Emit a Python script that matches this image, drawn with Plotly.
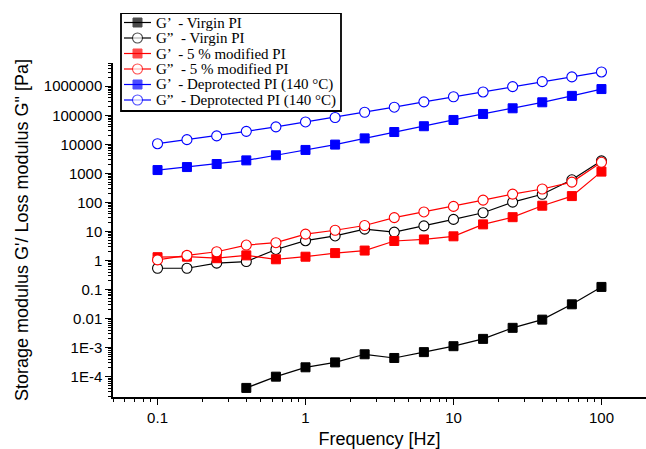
import numpy as np
import plotly.graph_objects as go

freq = [0.1, 0.158, 0.251, 0.398, 0.631, 1.0, 1.585, 2.51, 3.98, 6.31, 10.0, 15.85, 25.1, 39.8, 63.1, 100.0]
freq_virgin_gp = freq[3:]

virgin_gp = [4.1e-5, 1.0e-4, 2.1e-4, 3.1e-4, 5.9e-4, 4.4e-4, 7.0e-4, 1.12e-3, 2.0e-3, 4.8e-3, 9.2e-3, 0.031, 0.123]
virgin_gpp = [0.54, 0.54, 0.81, 0.92, 2.4, 4.8, 7.0, 12, 9.5, 15.5, 26, 44, 102, 190, 600, 2700]
mod_gp = [1.3, 1.35, 1.2, 1.5, 1.1, 1.35, 1.8, 2.2, 4.7, 5.3, 6.8, 17.5, 31, 77, 165, 1150]
mod_gpp = [1.05, 1.5, 2.0, 3.4, 4.1, 8.1, 11, 16, 30, 47, 73, 120, 193, 290, 500, 2400]
dep_gp = [1300, 1650, 2100, 2800, 4200, 6400, 9800, 16000, 26500, 42000, 69000, 111000, 174000, 280000, 465000, 800000]
dep_gpp = [10500, 14500, 19500, 28000, 40000, 59000, 84000, 127000, 190000, 290000, 435000, 635000, 970000, 1.44e6, 2.1e6, 3.1e6]

names = ["G’  - Virgin PI", "G”  - Virgin PI", "G’  - 5 % modified PI",
         "G”  - 5 % modified PI", "G’  - Deprotected PI (140 °C)", "G”  - Deprotected PI (140 °C)"]

y_tick_vals = [1e-4, 1e-3, 1e-2, 1e-1, 1, 10, 100, 1000, 1e4, 1e5, 1e6]
y_tick_text = ["1E-4", "1E-3", "0.01", "0.1", "1", "10", "100", "1000", "10000", "100000", "1000000"]
x_tick_vals = [0.1, 1, 10, 100]
x_tick_text = ["0.1", "1", "10", "100"]

series = [
    (freq_virgin_gp, virgin_gp, "black", "square"),
    (freq, virgin_gpp, "black", "circle-open"),
    (freq, mod_gp, "#ff0000", "square"),
    (freq, mod_gpp, "#ff0000", "circle-open"),
    (freq, dep_gp, "#0000ff", "square"),
    (freq, dep_gpp, "#0000ff", "circle-open"),
]

# Layout geometry (pixels)
W, H = 646, 449
L, R, T, B = 113, 0, 13, 52          # outer plot region incl. legend strip
AX_TOP = 63                          # top of the data axes
area_h = H - T - B
y_dom_top = (H - B - AX_TOP) / area_h

def marker_style(col, sym):
    if sym == "square":
        return dict(symbol="square", size=9, color=col, line=dict(color=col, width=1))
    return dict(symbol="circle", size=10, color="white", line=dict(color=col, width=1.1))

fig = go.Figure()
for (xs, ys, col, sym), nm in zip(series, names):
    fig.add_trace(go.Scatter(
        x=xs, y=ys, name=nm, mode="lines+markers", showlegend=False,
        line=dict(color=col, width=1.2), marker=marker_style(col, sym),
    ))

# Compact legend drawn in a separate pixel-coordinate subplot
leg_left, leg_right, leg_top, leg_bottom = 121, 341, 13, 111
leg_rows = [22.5, 38.0, 53.5, 69.0, 84.5, 100.0]
for (xs, ys, col, sym), nm, yc in zip(series, names, leg_rows):
    ms = marker_style(col, sym)
    ms["size"] = [0, ms["size"], 0]
    fig.add_trace(go.Scatter(
        x=[124, 137.5, 151], y=[yc, yc, yc], xaxis="x2", yaxis="y2",
        mode="lines+markers", showlegend=False, hoverinfo="skip",
        line=dict(color=col, width=1.2), marker=ms,
    ))
    fig.add_annotation(x=154, y=yc, xref="x2", yref="y2", text=nm, showarrow=False,
                       xanchor="left", yanchor="middle",
                       font=dict(family="Liberation Serif, Times New Roman", size=15, color="black"))

fig.add_shape(type="rect", xref="x2", yref="y2", x0=leg_left, x1=leg_right, y0=leg_top, y1=leg_bottom,
              line=dict(color="black", width=1.8), fillcolor="white", layer="below")

def minor_vals(lo, hi):
    out = []
    for e in range(lo, hi + 1):
        for m in range(2, 10):
            out.append(m * 10.0 ** e)
    return out

fig.update_layout(
    width=W, height=H,
    margin=dict(l=L, r=R, t=T, b=B),
    paper_bgcolor="white", plot_bgcolor="rgba(0,0,0,0)",
    font=dict(family="Liberation Sans, Arial", color="black", size=15),
    showlegend=False,
    xaxis=dict(type="log", range=[np.log10(0.05), np.log10(200)], domain=[0, 1], anchor="y",
               showgrid=False, zeroline=False, showline=True, linecolor="black", linewidth=1.5,
               ticks="outside", ticklen=6, tickwidth=1, tickcolor="black",
               tickmode="array", tickvals=x_tick_vals, ticktext=x_tick_text,
               minor=dict(ticks="outside", ticklen=3, tickwidth=1, tickcolor="black",
                          tickmode="array", tickvals=minor_vals(-2, 2), showgrid=False),
               title=dict(text="Frequency [Hz]", font=dict(size=18), standoff=10)),
    yaxis=dict(type="log", range=[-4.7, 6.8], domain=[0, y_dom_top], anchor="x",
               showgrid=False, zeroline=False, showline=True, linecolor="black", linewidth=1.5,
               ticks="outside", ticklen=6, tickwidth=1, tickcolor="black",
               tickmode="array", tickvals=y_tick_vals, ticktext=y_tick_text,
               minor=dict(ticks="outside", ticklen=3, tickwidth=1, tickcolor="black",
                          tickmode="array", tickvals=minor_vals(-5, 6), showgrid=False),
               title=dict(text="Storage modulus G'/ Loss modulus G\" [Pa]", font=dict(size=18), standoff=11)),
    xaxis2=dict(range=[L, W - R], domain=[0, 1], anchor="y2", visible=False, fixedrange=True),
    yaxis2=dict(range=[H - B, T], domain=[0, 1], anchor="x2", visible=False, fixedrange=True),
)

fig.write_html("out.html")
